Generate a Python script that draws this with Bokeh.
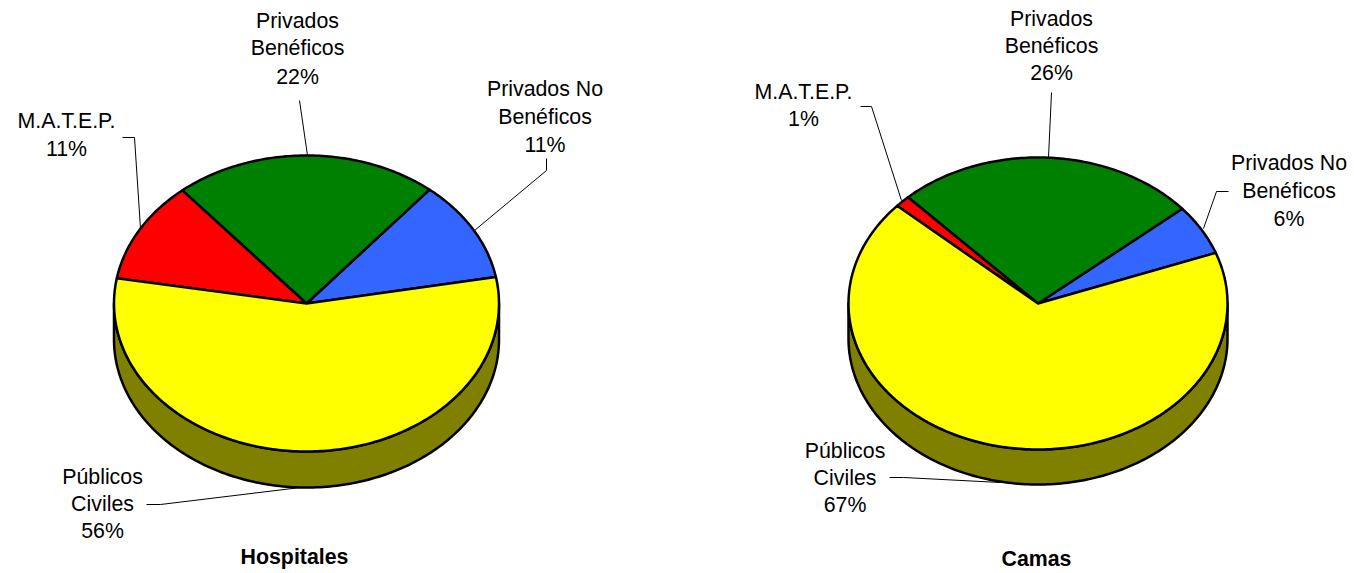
import numpy as np
from bokeh.plotting import figure
from bokeh.models import Range1d
from bokeh.core.properties import value
from bokeh.embed import file_html
from bokeh.resources import INLINE

categories = ["Privados No Benéficos", "Privados Benéficos", "M.A.T.E.P.", "Públicos Civiles"]
hospitales = [11.1, 22.2, 11.1, 55.6]
camas = [5.6, 25.8, 1.3, 67.3]
hospitales_labels = ["11%", "22%", "11%", "56%"]
camas_labels = ["6%", "26%", "1%", "67%"]
colors = ["#3366FF", "#008000", "#FF0000", "#FFFF00"]
WALL = "#808000"
FONT = "Liberation Sans"

p = figure(width=1354, height=573, output_backend="svg", toolbar_location=None,
           x_range=Range1d(0, 1354), y_range=Range1d(573, 0), min_border=0,
           outline_line_color=None, background_fill_color="white")
p.axis.visible = False
p.grid.visible = False


def pie(vals, cx, cy, rx, ry, depth, start):
    t = np.radians(np.linspace(180, 360, 181))
    x = cx + rx * np.cos(t)
    y = cy - ry * np.sin(t)
    p.patch(np.r_[x, x[::-1]], np.r_[y, y[::-1] + depth], fill_color=WALL,
            line_color="black", line_width=2.5, line_join="round")
    a = start
    for v, c in zip(vals, colors):
        b = a + v * 3.6
        t = np.radians(np.linspace(a, b, max(3, int(v * 4))))
        xs = np.r_[cx, cx + rx * np.cos(t)]
        ys = np.r_[cy, cy - ry * np.sin(t)]
        p.patch(xs, ys, fill_color=c, line_color="black", line_width=2.5, line_join="round")
        a = b


pie(hospitales, 306, 303, 192.5, 148, 36, 10.3)
pie(camas, 1037.5, 303, 189.5, 146, 35, 20.3)

leaders = [
    ([299, 307], [100, 155]),
    ([546, 546, 474], [158, 170, 230]),
    ([122, 134, 140], [137, 137, 228]),
    ([146, 160, 300], [504, 504, 487]),
    ([1051, 1048], [92, 157]),
    ([1228, 1216, 1203], [191, 191, 228]),
    ([860, 871, 901], [106, 106, 200]),
    ([889, 903, 1000], [477, 477, 482]),
]
for lx, ly in leaders:
    p.line(lx, ly, line_color="black", line_width=1)


def label(lines, cx, ys, bold=False):
    p.text([cx] * len(lines), ys, text=lines, text_font=value(FONT),
           text_font_size="21.33px", text_align="center", text_baseline="middle",
           text_color="black", text_font_style="bold" if bold else "normal")


label(["Privados No", "Benéficos", hospitales_labels[0]], 544.5, [88, 116, 144])
label(["Privados", "Benéficos", hospitales_labels[1]], 297, [20, 47, 76])
label(["M.A.T.E.P.", hospitales_labels[2]], 66, [120, 148])
label(["Públicos", "Civiles", hospitales_labels[3]], 102, [476, 503, 530])
label(["Hospitales"], 294, [556], bold=True)

label(["Privados No", "Benéficos", camas_labels[0]], 1288.5, [162, 190, 218])
label(["Privados", "Benéficos", camas_labels[1]], 1051, [18, 45, 72])
label(["M.A.T.E.P.", camas_labels[2]], 803, [91, 118])
label(["Públicos", "Civiles", camas_labels[3]], 844.5, [450, 477, 504])
label(["Camas"], 1036, [558], bold=True)

open("out.html", "w").write(file_html(p, INLINE))
